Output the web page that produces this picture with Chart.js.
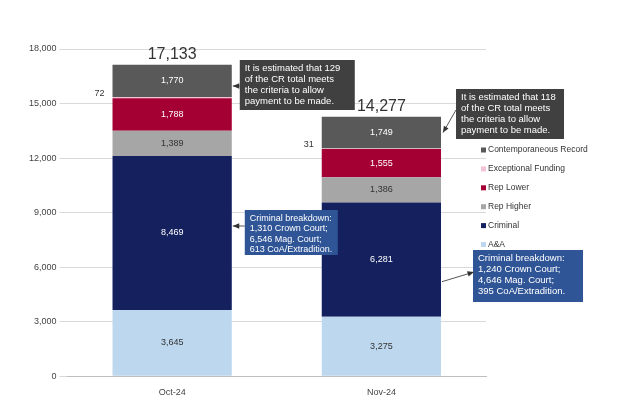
<!DOCTYPE html>
<html><head><meta charset="utf-8">
<script src="https://cdn.jsdelivr.net/npm/chart.js@4/dist/chart.umd.min.js"></script>
<style>html,body{margin:0;background:#fff}#w{width:620px;height:405px}</style>
</head><body><div id="w"><canvas id="c"></canvas></div>
<script>
const categories = ['Oct-24', 'Nov-24'];
const aa = [3645, 3275];
const criminal = [8469, 6281];
const repHigher = [1389, 1386];
const repLower = [1788, 1555];
const exceptional = [72, 31];
const contemporaneous = [1770, 1749];
const totals = ['17,133', '14,277'];
const yTicks = [0, 3000, 6000, 9000, 12000, 15000, 18000];
const seriesNames = ['A&A','Criminal','Rep Higher','Rep Lower','Exceptional Funding','Contemporaneous Record'];
const colors = ['#bdd7ee','#14215e','#a6a6a6','#a50034','#f4c2d7','#595959'];
const grayNotes = [['It is estimated that 129','of the CR total meets','the criteria to allow','payment to be made.'],['It is estimated that 118','of the CR total meets','the criteria to allow','payment to be made.']];
const blueNotes = [['Criminal breakdown:','1,310 Crown Court;','6,546 Mag. Court;','613 CoA/Extradition.'],['Criminal breakdown:','1,240 Crown Court;','4,646 Mag. Court;','395 CoA/Extradition.']];
const allData = [aa, criminal, repHigher, repLower, exceptional, contemporaneous];

function arrow(ctx,x1,y1,x2,y2){
  ctx.strokeStyle='#555';ctx.fillStyle='#333';ctx.lineWidth=1;
  ctx.beginPath();ctx.moveTo(x1,y1);ctx.lineTo(x2,y2);ctx.stroke();
  const a=Math.atan2(y2-y1,x2-x1);
  ctx.beginPath();ctx.moveTo(x2,y2);
  ctx.lineTo(x2-7*Math.cos(a-0.4),y2-7*Math.sin(a-0.4));
  ctx.lineTo(x2-7*Math.cos(a+0.4),y2-7*Math.sin(a+0.4));ctx.closePath();ctx.fill();
}
function box(ctx,x,y,w,h,bg,lines,fs){
  ctx.fillStyle=bg;ctx.fillRect(x,y,w,h);
  ctx.fillStyle='#fff';ctx.font=fs+'px "Liberation Sans", Arial';ctx.textAlign='left';ctx.textBaseline='top';
  lines.forEach((l,i)=>ctx.fillText(l,x+5,y+4+i*(fs+1.5)));
}
const annot = {
  id:'annot',
  afterDatasetsDraw(chart){
    const ctx=chart.ctx, xs=chart.scales.x, ys=chart.scales.y;
    ctx.save();
    const meta=chart.getDatasetMeta(5);
    categories.forEach((c,i)=>{
      const bar=meta.data[i];
      let sum=0; allData.forEach(d=>sum+=d[i]);
      ctx.fillStyle='#333';ctx.font='16px "Liberation Sans", Arial';ctx.textAlign='center';ctx.textBaseline='bottom';
      ctx.fillText(totals[i], xs.getPixelForValue(i), ys.getPixelForValue(sum)-2);
      const yE=ys.getPixelForValue(aa[i]+criminal[i]+repHigher[i]+repLower[i]+exceptional[i]/2);
      ctx.font='9px "Liberation Sans", Arial';ctx.textAlign='right';ctx.textBaseline='middle';ctx.fillStyle='#333';
      ctx.fillText(String(exceptional[i]), bar.x-bar.width/2-8, yE-4);
    });
    const b0=meta.data[0], b1=meta.data[1];
    const r0=b0.x+b0.width/2, r1=b1.x+b1.width/2;
    box(ctx,r0+8,60,115,50,'#404040',grayNotes[0],9.5);
    arrow(ctx,r0+8,86,r0+1,86);
    box(ctx,r1+15,89,108,50,'#404040',grayNotes[1],9.5);
    arrow(ctx,r1+15,110,r1+2,ys.getPixelForValue(13400));
    box(ctx,r0+13,210,93,45,'#2f5597',blueNotes[0],9);
    arrow(ctx,r0+13,226,r0+1,226);
    box(ctx,r1+32,250,110,52,'#2f5597',blueNotes[1],9.5);
    arrow(ctx,r1+1,ys.getPixelForValue(5200),r1+33,272);
    ctx.font='8.5px "Liberation Sans", Arial';ctx.textAlign='left';ctx.textBaseline='middle';
    for(let k=0;k<6;k++){
      const idx=5-k, y=150+k*18.9;
      ctx.fillStyle=colors[idx];ctx.fillRect(481,y-2.5,5,5);
      ctx.fillStyle='#333';ctx.fillText(seriesNames[idx],488,y);
    }
    ctx.restore();
  }
};
new Chart(document.getElementById('c'),{
  type:'bar',
  data:{labels:categories,datasets:allData.map((d,i)=>({label:seriesNames[i],data:d,backgroundColor:colors[i],barPercentage:0.57,categoryPercentage:1}))},
  options:{
    responsive:true,maintainAspectRatio:false,animation:false,
    layout:{padding:{top:49,right:134,bottom:4,left:26}},
    plugins:{legend:{display:false},tooltip:{enabled:false}},
    scales:{
      x:{stacked:true,grid:{display:false},border:{color:'#bfbfbf'},ticks:{color:'#444',font:{size:9,family:'"Liberation Sans", Arial'}}},
      y:{stacked:true,min:0,max:18000,afterBuildTicks(s){s.ticks=yTicks.map(v=>({value:v}));},
        grid:{color:'#d9d9d9'},border:{display:false},
        ticks:{color:'#444',font:{size:9,family:'"Liberation Sans", Arial'},callback:v=>v.toLocaleString('en-US')}}
    }
  },
  plugins:[annot,{id:'vals',afterDatasetsDraw(chart){
    const ctx=chart.ctx;ctx.save();ctx.font='9px "Liberation Sans", Arial';ctx.textAlign='center';ctx.textBaseline='middle';
    [0,1,2,3,5].forEach(di=>{chart.getDatasetMeta(di).data.forEach((b,i)=>{
      ctx.fillStyle=(di===0||di===2)?'#333':'#fff';
      ctx.fillText(allData[di][i].toLocaleString('en-US'),b.x,(b.y+b.base)/2);
    });});ctx.restore();}}]
});
</script></body></html>
